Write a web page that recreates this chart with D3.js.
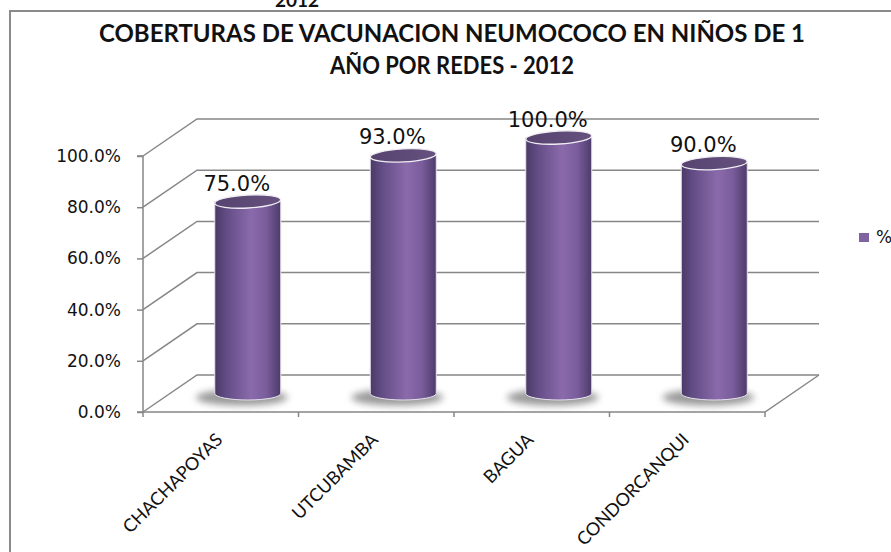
<!DOCTYPE html>
<html>
<head>
<meta charset="utf-8">
<script src="https://cdn.jsdelivr.net/npm/d3@7/dist/d3.min.js"></script>
<style>
  body { margin: 0; background: #fff; }
  svg { display: block; }
</style>
</head>
<body>
<svg id="chart" width="891" height="552"></svg>
<script>
// data
const redes = ["CHACHAPOYAS", "UTCUBAMBA", "BAGUA", "CONDORCANQUI"];
const cobertura = [0.75, 0.93, 1.00, 0.90];
const yTicks = [0, 0.2, 0.4, 0.6, 0.8, 1.0];
const seriesName = "%";
const titleLines = ["COBERTURAS DE VACUNACION NEUMOCOCO EN NIÑOS DE 1", "AÑO POR REDES - 2012"];
const titleWidths = [706, 244];

const svg = d3.select("#chart");

// front plane scales + depth offset of the 3d box
const x = d3.scaleBand().domain(redes).range([143, 765]).paddingInner(0).paddingOuter(0);
const y = d3.scaleLinear().domain([0, 1]).range([412, 156]);
const depth = { dx: 54, dy: -37 };
const fmt = d3.format(".1%");

const defs = svg.append("defs");
const body = defs.append("linearGradient").attr("id", "cyl").attr("x1", 0).attr("x2", 1).attr("y1", 0).attr("y2", 0);
[[0, "#4a3966"], [0.18, "#634d86"], [0.55, "#8a6aab"], [0.78, "#7a5d9c"], [1, "#4d3b6a"]]
  .forEach(([o, c]) => body.append("stop").attr("offset", o).attr("stop-color", c));
const cap = defs.append("linearGradient").attr("id", "cap").attr("x1", 0).attr("x2", 1).attr("y1", 0).attr("y2", 0);
[[0, "#56436f"], [1, "#66517f"]].forEach(([o, c]) => cap.append("stop").attr("offset", o).attr("stop-color", c));
defs.append("filter").attr("id", "blur").attr("x", "-50%").attr("y", "-100%").attr("width", "200%").attr("height", "300%")
  .append("feGaussianBlur").attr("stdDeviation", 3.5);

// chart frame (cut at right/bottom, as in the screenshot)
svg.append("rect").attr("x", 10).attr("y", 11).attr("width", 900).attr("height", 600)
  .attr("fill", "none").attr("stroke", "#8a8a8a").attr("stroke-width", 2);

// leftover text of a cut-off element above
svg.append("text").attr("x", 297).attr("y", 7).attr("text-anchor", "middle")
  .style("font", "bold 19px Lato, sans-serif").attr("fill", "#111").text("2012");

svg.selectAll(".title").data(titleLines).enter().append("text")
  .attr("class", "title")
  .attr("x", 452).attr("y", (d, i) => 42 + i * 32)
  .attr("text-anchor", "middle")
  .attr("textLength", (d, i) => titleWidths[i])
  .attr("lengthAdjust", "spacingAndGlyphs")
  .style("font", "bold 24px Lato, sans-serif")
  .attr("fill", "#111")
  .text(d => d);

const gridColor = "#878787";
const g = svg.append("g");

// back wall gridlines + side wall diagonals
g.selectAll(".grid").data(yTicks).enter().append("path")
  .attr("d", v => `M${x.range()[0]},${y(v)}L${x.range()[0] + depth.dx},${y(v) + depth.dy}H${x.range()[1] + depth.dx}`)
  .attr("fill", "none").attr("stroke", gridColor).attr("stroke-width", 1.5);

// floor: front edge and right side
g.append("path")
  .attr("d", `M${x.range()[0]},${y(0)}H${x.range()[1]}L${x.range()[1] + depth.dx},${y(0) + depth.dy}`)
  .attr("fill", "none").attr("stroke", gridColor).attr("stroke-width", 1.5);

// y axis
const yAxis = d3.axisLeft(y).tickValues(yTicks).tickFormat(fmt).tickSize(6).tickPadding(16);
const ya = g.append("g").attr("transform", `translate(${x.range()[0]},0)`).call(yAxis);
ya.select(".domain").attr("stroke", gridColor).attr("stroke-width", 1.5).attr("d", `M-6,${y(1)}H0V${y(0)}H-6`);
ya.selectAll(".tick line").attr("stroke", gridColor).attr("stroke-width", 1.5);
ya.selectAll(".tick text").style("font", "17px 'DejaVu Sans', sans-serif").attr("fill", "#111");

// x axis ticks at category edges
const edges = redes.map(r => x(r)).concat([x.range()[1]]);
g.selectAll(".xtick").data(edges).enter().append("line")
  .attr("x1", d => d).attr("x2", d => d).attr("y1", y(0)).attr("y2", y(0) + 5)
  .attr("stroke", gridColor).attr("stroke-width", 1.5);

g.selectAll(".xlabel").data(redes).enter().append("text")
  .attr("transform", d => `translate(${x(d) + x.bandwidth() / 2 - 6},${y(0) + 20}) rotate(-45)`)
  .attr("text-anchor", "end")
  .attr("dy", "0.7em")
  .style("font", "18px Lato, sans-serif")
  .attr("fill", "#111")
  .text(d => d);

// cylinders, sitting at mid depth
const rx = 33, ry = 6.5;
const cyl = g.selectAll(".cyl").data(redes.map((r, i) => ({ red: r, v: cobertura[i] }))).enter()
  .append("g").attr("class", "cyl");
const cx = d => x(d.red) + x.bandwidth() / 2 + depth.dx / 2;
const base = y(0) + depth.dy / 2;
const topY = d => y(d.v) + depth.dy / 2;

cyl.append("ellipse")
  .attr("cx", d => cx(d) - 6).attr("cy", base + 4)
  .attr("rx", 46).attr("ry", 8)
  .attr("fill", "#6e6e6e").attr("opacity", 0.7).attr("filter", "url(#blur)");

cyl.append("path")
  .attr("d", d => `M${cx(d) - rx},${topY(d)}V${base}A${rx},${ry} 0 0 0 ${cx(d) + rx},${base}V${topY(d)}Z`)
  .attr("fill", "url(#cyl)").attr("stroke", "#e6e2ee").attr("stroke-width", 1);

cyl.append("ellipse")
  .attr("cx", d => cx(d)).attr("cy", d => topY(d))
  .attr("rx", rx).attr("ry", ry)
  .attr("transform", d => `rotate(-3,${cx(d)},${topY(d)})`)
  .attr("fill", "url(#cap)").attr("stroke", "#f0eef4").attr("stroke-width", 1.3);

cyl.append("text")
  .attr("x", d => cx(d) - 11).attr("y", d => topY(d) - 11)
  .attr("text-anchor", "middle")
  .style("font", "21px 'DejaVu Sans', sans-serif")
  .attr("fill", "#111")
  .text(d => fmt(d.v));

// legend
const leg = svg.append("g").attr("transform", "translate(859,233)");
leg.append("rect").attr("width", 10).attr("height", 9).attr("fill", "#8064a2");
leg.append("text").attr("x", 17).attr("y", 10).style("font", "17px 'DejaVu Sans', sans-serif").attr("fill", "#111").text(seriesName);
</script>
</body>
</html>
